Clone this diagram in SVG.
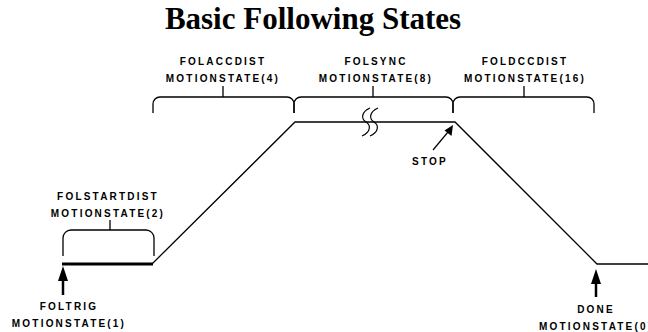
<svg xmlns="http://www.w3.org/2000/svg" width="648" height="332" viewBox="0 0 648 332">
<defs>
<style>
.t{font-family:"Liberation Sans",Arial,sans-serif;font-weight:bold;font-size:10px;letter-spacing:2.2px;fill:#000;text-anchor:middle}
.title{font-family:"Liberation Serif","Times New Roman",serif;font-weight:bold;font-size:31px;fill:#000;text-anchor:middle}
.ln{fill:none;stroke:#000;stroke-width:1.3}
.br{fill:none;stroke:#000;stroke-width:1.3}
.sq{fill:none;stroke:#000;stroke-width:1.2}
</style>
</defs>
<rect width="648" height="332" fill="#fff"/>
<text class="title" x="313" y="29">Basic Following States</text>

<g id="profile">
<path class="ln" d="M152,264 L295,122 L455,122 L597,264 L648,264"/>
<line x1="62" y1="264" x2="153" y2="264" stroke="#000" stroke-width="3"/>
<g id="break">
<path class="sq" d="M370,108 C361,112 361,119 366,122 C371,125 371,132 362,136"/>
<path class="sq" d="M378,108 C369,112 369,119 374,122 C379,125 379,132 370,136"/>
</g>
</g>

<g id="folstartdist">
<path class="br" d="M63,256 V238 A8 8 0 0 1 71,230 H146 A8 8 0 0 1 154,238 V256"/>
<line class="br" x1="110" y1="230" x2="110" y2="220"/>
<text class="t" x="108" y="200">FOLSTARTDIST</text>
<text class="t" x="108" y="217">MOTIONSTATE(2)</text>
</g>

<g id="folaccdist">
<path class="br" d="M153,113 V104 A7 7 0 0 1 160,97 H287 A7 7 0 0 1 294,104 V113"/>
<line class="br" x1="223" y1="97" x2="223" y2="86"/>
<text class="t" x="223" y="65">FOLACCDIST</text>
<text class="t" x="223" y="82">MOTIONSTATE(4)</text>
</g>

<g id="folsync">
<path class="br" d="M294,113 V104 A7 7 0 0 1 301,97 H446 A7 7 0 0 1 453,104 V113"/>
<line class="br" x1="373" y1="97" x2="373" y2="86"/>
<text class="t" x="376" y="65">FOLSYNC</text>
<text class="t" x="376" y="82">MOTIONSTATE(8)</text>
</g>

<g id="foldccdist">
<path class="br" d="M453,113 V104 A7 7 0 0 1 460,97 H587 A7 7 0 0 1 594,104 V113"/>
<line class="br" x1="524" y1="97" x2="524" y2="86"/>
<text class="t" x="525" y="65">FOLDCCDIST</text>
<text class="t" x="525" y="82">MOTIONSTATE(16)</text>
</g>

<g id="foltrig">
<text class="t" x="69" y="310">FOLTRIG</text>
<text class="t" x="69" y="327">MOTIONSTATE(1)</text>
</g>

<g id="stop">
<text class="t" x="430" y="165">STOP</text>
</g>

<g id="done">
<text class="t" x="596" y="313">DONE</text>
<text class="t" x="539" y="330" style="text-anchor:start">MOTIONSTATE(0)</text>
</g>

<g id="connectors">
<line x1="63" y1="295" x2="63" y2="279" stroke="#000" stroke-width="2.5"/>
<path d="M63,266 L58,281 L68,281 z" fill="#000"/>
<line x1="596" y1="297" x2="596" y2="282" stroke="#000" stroke-width="2.5"/>
<path d="M596,269 L591,284 L601,284 z" fill="#000"/>
<line x1="433" y1="150" x2="448" y2="132" stroke="#000" stroke-width="1.2"/>
<path d="M453,125 L451.5,136 L444.5,130.5 z" fill="#000"/>
</g>
</svg>
